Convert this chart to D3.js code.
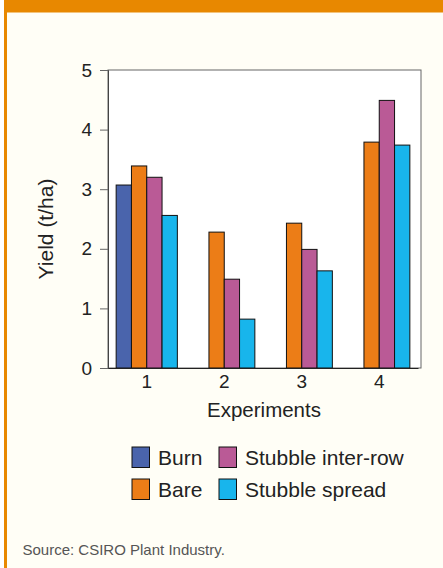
<!DOCTYPE html>
<html lang="en">
<head>
  <meta charset="UTF-8">
  <title>Yield by experiment</title>
  <script src="https://d3js.org/d3.v7.min.js"></script>
  <style>
    body { margin: 0; background: #fff; }
    svg { display: block; font-family: "Liberation Sans", Arial, sans-serif; }
  </style>
</head>
<body>
  <div id="chart"></div>
  <script>
    // data
    const experiments = ["1", "2", "3", "4"];
    const seriesNames = ["Burn", "Bare", "Stubble inter-row", "Stubble spread"];
    const burn = [3.07, null, null, null];
    const bare = [3.39, 2.28, 2.43, 3.79];
    const interRow = [3.2, 1.49, 1.99, 4.49];
    const spread = [2.56, 0.82, 1.63, 3.74];
    const yTicks = [0, 1, 2, 3, 4, 5];
    const colors = ["#4a64ac", "#ec7d17", "#ba5a96", "#18b5ec"];

    const values = [burn, bare, interRow, spread];
    const width = 443, height = 568;
    const font = "Liberation Sans, Arial, sans-serif";

    const svg = d3.select("#chart").append("svg")
      .attr("width", width)
      .attr("height", height);

    // panel background and orange frame
    svg.append("rect").attr("x", 4).attr("y", 0).attr("width", width - 4).attr("height", height).attr("fill", "#fffef6");
    svg.append("rect").attr("x", 4).attr("y", 0).attr("width", width - 4).attr("height", 12.5).attr("fill", "#e88800");
    svg.append("rect").attr("x", 4).attr("y", 0).attr("width", 3).attr("height", height).attr("fill", "#e88800");

    const plot = { left: 108, right: 421, top: 70, bottom: 368 };

    const y = d3.scaleLinear().domain([0, 5]).range([plot.bottom, plot.top]);
    const x0 = d3.scaleBand().domain(experiments).range([plot.left, 418]);
    const barW = 15.3;
    const x1 = d3.scaleBand().domain(seriesNames).range([-2 * barW, 2 * barW]);

    svg.append("rect")
      .attr("x", plot.left).attr("y", plot.top)
      .attr("width", plot.right - plot.left).attr("height", plot.bottom - plot.top)
      .attr("fill", "#fff").attr("stroke", "#666").attr("stroke-width", 1);

    // bars, burn only exists for experiment 1
    const rows = [];
    experiments.forEach((e, i) => {
      seriesNames.forEach((s, j) => {
        if (values[j][i] != null) rows.push({ exp: e, series: s, value: values[j][i], color: colors[j] });
      });
    });

    svg.selectAll(".bar")
      .data(rows)
      .enter()
      .append("rect")
      .attr("class", "bar")
      .attr("x", d => x0(d.exp) + x0.bandwidth() / 2 + x1(d.series))
      .attr("y", d => y(d.value))
      .attr("width", x1.bandwidth())
      .attr("height", d => y(0) - y(d.value))
      .attr("fill", d => d.color)
      .attr("stroke", "#111")
      .attr("stroke-width", 1);

    // y axis
    const yAxis = svg.append("g")
      .attr("transform", `translate(${plot.left},0)`)
      .call(d3.axisLeft(y).tickValues(yTicks).tickFormat(d3.format("d")).tickSize(8).tickPadding(8));
    yAxis.select(".domain").attr("stroke", "#444");
    yAxis.selectAll(".tick line").attr("stroke", "#666");
    yAxis.selectAll("text").attr("font-size", 19).attr("fill", "#222").attr("font-family", font);

    // x axis
    const xAxis = svg.append("g")
      .attr("transform", `translate(0,${plot.bottom})`)
      .call(d3.axisBottom(x0).tickSize(0).tickPadding(7));
    xAxis.select(".domain").attr("stroke", "#222");
    xAxis.selectAll("text").attr("font-size", 19).attr("fill", "#222").attr("font-family", font);

    svg.append("text")
      .attr("x", 264).attr("y", 417)
      .attr("text-anchor", "middle")
      .attr("font-size", 20.5).attr("fill", "#222")
      .text("Experiments");

    svg.append("text")
      .attr("transform", "translate(53,229) rotate(-90)")
      .attr("text-anchor", "middle")
      .attr("font-size", 21).attr("fill", "#222")
      .text("Yield (t/ha)");

    // legend, two columns
    const legend = svg.append("g");
    const legPos = [[132, 447], [132, 479], [219, 447], [219, 479]];
    seriesNames.forEach((s, i) => {
      const g = legend.append("g").attr("transform", `translate(${legPos[i][0]},${legPos[i][1]})`);
      g.append("rect").attr("width", 17.5).attr("height", 20.5)
        .attr("fill", colors[i]).attr("stroke", "#111");
      g.append("text").attr("x", 26).attr("y", 18)
        .attr("font-size", 21).attr("fill", "#222").text(s);
    });

    svg.append("text")
      .attr("x", 22.5).attr("y", 555)
      .attr("font-size", 15).attr("fill", "#555")
      .text("Source: CSIRO Plant Industry.");
  </script>
</body>
</html>
